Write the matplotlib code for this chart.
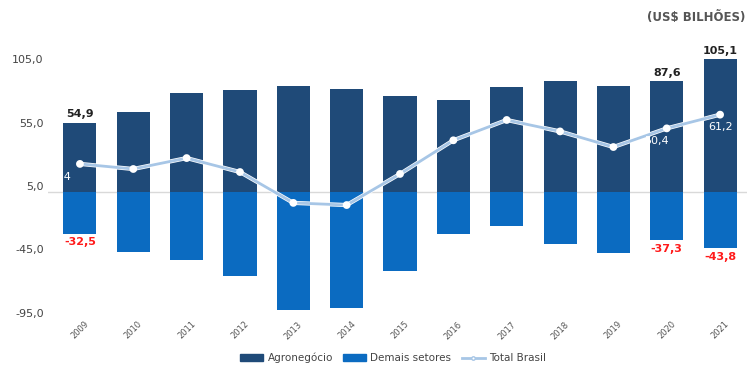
import matplotlib
matplotlib.use("Agg")
import matplotlib.pyplot as plt
import matplotlib.patheffects as pe
from matplotlib.lines import Line2D
from matplotlib.patches import Patch

years = ["2009", "2010", "2011", "2012", "2013", "2014", "2015", "2016",
         "2017", "2018", "2019", "2020", "2021"]
agro = [54.9, 63.0, 78.0, 80.3, 83.5, 81.3, 75.8, 72.5, 83.0, 87.6, 83.6, 87.6, 105.1]
demais = [-32.5, -47.0, -53.0, -66.0, -93.0, -91.0, -62.0, -33.0, -26.5, -41.0, -48.0, -37.3, -43.8]
total = [22.4, 18.4, 27.0, 16.0, -8.3, -10.0, 14.5, 41.0, 57.0, 48.0, 35.7, 50.4, 61.2]
yticks = [105, 55, 5, -45, -95]

agro_labels = {0: "54,9", 11: "87,6", 12: "105,1"}
demais_labels = {0: "-32,5", 11: "-37,3", 12: "-43,8"}
total_labels = {0: "22,4", 11: "50,4", 12: "61,2"}
total_label_dx = {0: -0.16, 11: -0.2, 12: 0.0}
total_label_ha = {0: "right", 11: "center", 12: "center"}

C_AGRO = "#1f4a78"
C_DEM = "#0b6bc1"
C_LINE = "#a7c6e6"

fig = plt.figure(figsize=(7.49, 3.66), dpi=100)
ax = fig.add_axes([0.064, 0.138, 0.933, 0.718])

x = list(range(len(years)))
w = 0.62
ax.bar(x, agro, width=w, color=C_AGRO, zorder=2)
ax.bar(x, demais, width=w, color=C_DEM, zorder=2)
ax.axhline(0, color="#d9d9d9", lw=1, zorder=1)

ax.plot(x, total, color=C_LINE, lw=2.0, marker="o", ms=2.6,
        markerfacecolor="white", markeredgecolor="white", zorder=3,
        path_effects=[pe.Stroke(linewidth=3.0, foreground="white"), pe.Normal()])

for i, s in agro_labels.items():
    ax.text(i, agro[i] + 2.5, s, ha="center", va="bottom", fontsize=8,
            fontweight="bold", color="#222222", zorder=4)
for i, s in demais_labels.items():
    ax.text(i, demais[i] - 3, s, ha="center", va="top", fontsize=8,
            fontweight="bold", color="#ff1a1a", zorder=4)
for i, s in total_labels.items():
    ax.text(i + total_label_dx[i], total[i] - 6, s, ha=total_label_ha[i],
            va="top", fontsize=8, color="white", zorder=4)

ax.set_xlim(-0.6, 12.5)
ax.set_ylim(-97, 110)
ax.set_yticks(yticks)
ax.set_yticklabels([f"{v:.1f}".replace(".", ",") for v in yticks],
                   fontsize=8, color="#444444")
ax.set_xticks(x)
ax.set_xticklabels(years, rotation=45, fontsize=6, color="#555555",
                   ha="center", va="top")
ax.tick_params(length=0, axis="y", pad=3)
ax.tick_params(length=0, axis="x", pad=3)
for sp in ax.spines.values():
    sp.set_visible(False)

fig.text(0.995, 0.953, "(US$ BILHÕES)", ha="right", va="center",
         fontsize=8.5, fontweight="bold", color="#555555")

handles = [Patch(color=C_AGRO, label="Agronegócio"),
           Patch(color=C_DEM, label="Demais setores"),
           Line2D([0], [0], color=C_LINE, lw=2, marker="o", ms=2.5,
                  markerfacecolor="white", markeredgecolor=C_LINE,
                  label="Total Brasil")]
fig.legend(handles=handles, loc="center", bbox_to_anchor=(0.525, 0.022),
           ncol=3, frameon=False, fontsize=7.5, handlelength=2.2,
           handleheight=0.6, columnspacing=1.0, handletextpad=0.4,
           labelcolor="#444444")

fig.savefig("out.png", dpi=100)
